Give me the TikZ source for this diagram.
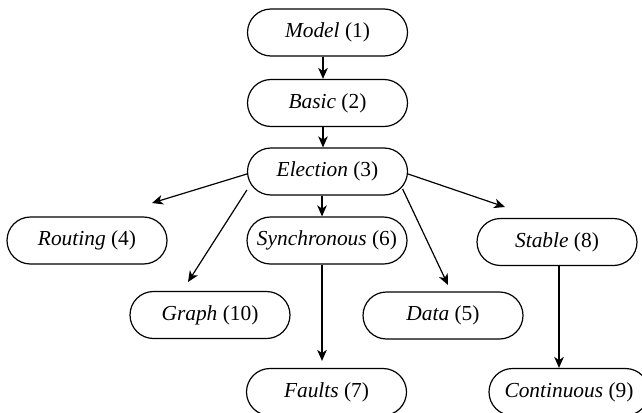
\documentclass[tikz,border=0pt]{standalone}
\usepackage{fontspec}
\setmainfont{Liberation Serif}
\usetikzlibrary{arrows.meta}

\tikzset{
  part/.style={draw, line width=0.6pt, rectangle, rounded corners=11.75pt,
    minimum width=80pt, minimum height=23.5pt, inner sep=0pt,
    font=\fontsize{10.7}{13}\selectfont},
  arr/.style={-{Stealth[length=5.5pt,width=4.8pt,inset=1.6pt]}, line width=0.6pt}
}

\begin{document}
\begin{tikzpicture}[x=0.5pt,y=-0.5pt]
\clip (0,0) rectangle (642,412);
\node[part] (model) at (327.5,32.5) {\textit{Model} (1)};
\node[part] (basic) at (327.5,103) {\textit{Basic} (2)};
\node[part] (election) at (327.5,171.5) {\textit{Election} (3)};
\node[part] (routing) at (87,240.5) {\textit{Routing} (4)};
\node[part] (sync) at (327,240.5) {\textit{Synchronous} (6)};
\node[part] (stable) at (557,242) {\textit{Stable} (8)};
\node[part] (graph) at (210,315) {\textit{Graph} (10)};
\node[part] (data) at (443,315.5) {\textit{Data} (5)};
\node[part] (faults) at (326.5,392) {\textit{Faults} (7)};
\node[part] (continuous) at (569,392) {\textit{Continuous} (9)};
% free ends of the fanning arrows
\coordinate (toRouting) at (152,203);
\coordinate (toGraph) at (188,282);
\coordinate (toData) at (448,285);
\coordinate (toStable) at (505,207);
\draw[arr] ([xshift=-2.25pt]model.south) -- ([xshift=-2.25pt]basic.north);
\draw[arr] ([xshift=-2.25pt]basic.south) -- ([xshift=-2.25pt]election.north);
\draw[arr] ([xshift=-2.75pt]election.south) -- ([xshift=-2.75pt]election.south |- sync.north);
\draw[arr] ([yshift=-1.25pt]election.west) -- (toRouting);
\draw[arr] ([yshift=-9.25pt]election.west) -- (toGraph);
\draw[arr] ([xshift=-2.75pt,yshift=-8.75pt]election.east) -- (toData);
\draw[arr] ([yshift=-1.25pt]election.east) -- (toStable);
\draw[arr, shorten >=3.5pt] ([xshift=-2.5pt]sync.south) -- ([xshift=-2.5pt]sync.south |- faults.north);
\draw[arr] ([xshift=1pt]stable.south) -- ([xshift=1pt]stable.south |- continuous.north);
\end{tikzpicture}
\end{document}
